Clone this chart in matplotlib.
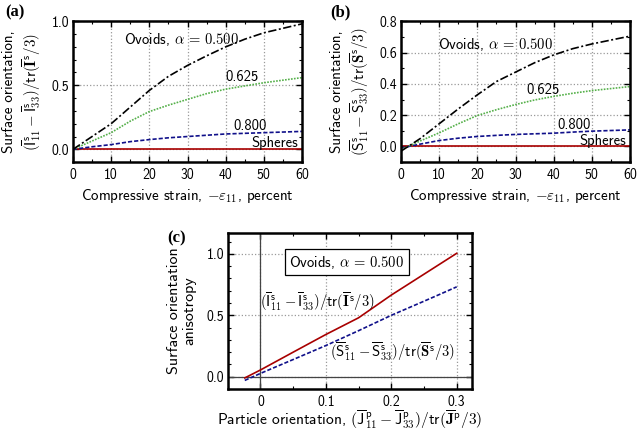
import matplotlib
matplotlib.use("Agg")
import matplotlib.pyplot as plt
from matplotlib.ticker import MultipleLocator

plt.rcParams['font.family'] = ['cmss10', 'DejaVu Sans']
plt.rcParams['mathtext.fontset'] = 'cm'
plt.rcParams['axes.unicode_minus'] = False
plt.rcParams['axes.formatter.use_mathtext'] = False

# ---- data ----
strain = [0, 5, 10, 15, 20, 25, 30, 35, 40, 45, 50, 55, 60]
a_ov500 = [0.0, 0.10, 0.20, 0.33, 0.46, 0.57, 0.655, 0.73, 0.80, 0.86, 0.91, 0.945, 0.98]
a_ov625 = [0.0, 0.065, 0.13, 0.22, 0.295, 0.345, 0.39, 0.435, 0.47, 0.495, 0.52, 0.54, 0.56]
a_ov800 = [0.0, 0.02, 0.037, 0.06, 0.076, 0.09, 0.10, 0.11, 0.12, 0.125, 0.13, 0.135, 0.14]
a_sph = [0.0] * 13

b_ov500 = [-0.03, 0.05, 0.145, 0.24, 0.33, 0.415, 0.475, 0.535, 0.585, 0.625, 0.655, 0.68, 0.705]
b_ov625 = [-0.02, 0.035, 0.087, 0.145, 0.198, 0.235, 0.268, 0.297, 0.32, 0.34, 0.357, 0.37, 0.383]
b_ov800 = [-0.01, 0.015, 0.038, 0.053, 0.064, 0.071, 0.077, 0.081, 0.085, 0.092, 0.098, 0.102, 0.106]
b_sph = [0.0] * 13

c_x = [-0.024, 0.0, 0.05, 0.1, 0.15, 0.2, 0.25, 0.275, 0.3]
c_I = [-0.01, 0.055, 0.2, 0.344, 0.48, 0.665, 0.835, 0.92, 1.005]
c_S = [-0.03, 0.027, 0.14, 0.254, 0.375, 0.50, 0.615, 0.673, 0.732]

BLACK = '#000000'
GREEN = '#55b04a'
BLUE = '#10108a'
RED = '#a80000'

TICK = 10
LAB = 10.8
ANN = 10.5

fig = plt.figure(figsize=(6.38, 4.43), dpi=100)

def style(ax):
    for s in ax.spines.values():
        s.set_linewidth(1.8)
    ax.tick_params(which='both', direction='in', top=True, right=True, labelsize=TICK)
    ax.tick_params(which='major', length=4, width=1.0, pad=4)
    ax.tick_params(axis='y', which='major', pad=2.5)
    ax.tick_params(which='minor', length=2.5, width=0.8)
    ax.grid(True, which='major', linestyle=':', color='#999999', linewidth=0.9)
    ax.set_axisbelow(True)

def curves(ax, o5, o6, o8, sp):
    ax.plot(strain, sp, color=RED, lw=1.2)
    ax.plot(strain, o8, color=BLUE, lw=1.2, ls=(0, (2.5, 1.2)))
    ax.plot(strain, o6, color=GREEN, lw=1.2, ls=(0, (1, 0.8)))
    ax.plot(strain, o5, color=BLACK, lw=1.2, ls=(0, (5, 1.5, 1.2, 1.5)))

OV = r"Ovoids, $\alpha\,=\,\mathsf{0.500}$"

# panel a
axa = fig.add_axes([0.1144, 0.634, 0.359, 0.318])
style(axa)
curves(axa, a_ov500, a_ov625, a_ov800, a_sph)
axa.set_xlim(0, 60)
axa.set_ylim(-0.1, 1.0)
axa.xaxis.set_major_locator(MultipleLocator(10))
axa.xaxis.set_minor_locator(MultipleLocator(5))
axa.yaxis.set_major_locator(MultipleLocator(0.5))
axa.yaxis.set_minor_locator(MultipleLocator(0.1))
axa.yaxis.set_major_formatter(matplotlib.ticker.FormatStrFormatter('%.1f'))
axa.set_xlabel(r"Compressive strain, $-\varepsilon_{11}$, percent", fontsize=LAB, labelpad=4)
axa.set_ylabel("Surface orientation,\n" +
               r"$(\overline{\mathsf{I}}^{\mathsf{s}}_{11}-\overline{\mathsf{I}}^{\mathsf{s}}_{33})/\mathsf{tr}(\overline{\mathbf{I}}^{\mathsf{s}}/3)$",
               fontsize=LAB, labelpad=6, linespacing=1.3)
axa.text(28.5, 0.86, OV, fontsize=ANN, ha='center', va='center')
axa.text(44.2, 0.565, "0.625", fontsize=ANN, ha='center', va='center')
axa.text(46.3, 0.18, "0.800", fontsize=ANN, ha='center', va='center')
axa.text(52.9, 0.05, "Spheres", fontsize=ANN, ha='center', va='center')

# panel b
axb = fig.add_axes([0.6285, 0.634, 0.359, 0.318])
style(axb)
curves(axb, b_ov500, b_ov625, b_ov800, b_sph)
axb.set_xlim(0, 60)
axb.set_ylim(-0.1, 0.8)
axb.xaxis.set_major_locator(MultipleLocator(10))
axb.xaxis.set_minor_locator(MultipleLocator(5))
axb.yaxis.set_major_locator(MultipleLocator(0.2))
axb.yaxis.set_minor_locator(MultipleLocator(0.1))
axb.yaxis.set_major_formatter(matplotlib.ticker.FormatStrFormatter('%.1f'))
axb.set_xlabel(r"Compressive strain, $-\varepsilon_{11}$, percent", fontsize=LAB, labelpad=4)
axb.set_ylabel("Surface orientation,\n" +
               r"$(\overline{\mathsf{S}}^{\mathsf{s}}_{11}-\overline{\mathsf{S}}^{\mathsf{s}}_{33})/\mathsf{tr}(\overline{\mathbf{S}}^{\mathsf{s}}/3)$",
               fontsize=LAB, labelpad=6, linespacing=1.3)
axb.text(24.8, 0.65, OV, fontsize=ANN, ha='center', va='center')
axb.text(37.2, 0.36, "0.625", fontsize=ANN, ha='center', va='center')
axb.text(45.3, 0.14, "0.800", fontsize=ANN, ha='center', va='center')
axb.text(52.8, 0.038, "Spheres", fontsize=ANN, ha='center', va='center')

# panel c
axc = fig.add_axes([0.357, 0.1219, 0.3824, 0.352])
style(axc)
axc.axhline(0, color='#444444', lw=0.9, zorder=1)
axc.axvline(0, color='#444444', lw=0.9, zorder=1)
axc.plot(c_x, c_I, color=RED, lw=1.2)
axc.plot(c_x, c_S, color=BLUE, lw=1.2, ls=(0, (2.5, 1.2)))
axc.set_xlim(-0.05, 0.323)
axc.set_ylim(-0.1, 1.17)
axc.xaxis.set_major_locator(MultipleLocator(0.1))
axc.xaxis.set_minor_locator(MultipleLocator(0.05))
axc.yaxis.set_major_locator(MultipleLocator(0.5))
axc.yaxis.set_minor_locator(MultipleLocator(0.1))
axc.xaxis.set_major_formatter(matplotlib.ticker.FuncFormatter(lambda v, p: '0' if abs(v) < 1e-9 else '%.1f' % v))
axc.yaxis.set_major_formatter(matplotlib.ticker.FormatStrFormatter('%.1f'))
axc.set_xlabel(r"Particle orientation, $(\overline{\mathsf{J}}^{\mathsf{p}}_{11}-\overline{\mathsf{J}}^{\mathsf{p}}_{33})/\mathsf{tr}(\overline{\mathbf{J}}^{\mathsf{p}}/3)$",
               fontsize=11.2, labelpad=0)
axc.set_ylabel("Surface orientation\nanisotropy", fontsize=11.5, labelpad=7, linespacing=1.15)
axc.text(0.132, 0.934, OV, fontsize=ANN, ha='center', va='center',
         bbox=dict(boxstyle='square,pad=0.3', fc='white', ec='black', lw=0.9))
axc.text(0.087, 0.61,
         r"$(\overline{\mathsf{I}}^{\mathsf{s}}_{11}-\overline{\mathsf{I}}^{\mathsf{s}}_{33})/\mathsf{tr}(\overline{\mathbf{I}}^{\mathsf{s}}/3)$",
         fontsize=ANN, ha='center', va='center')
axc.text(0.202, 0.205,
         r"$(\overline{\mathsf{S}}^{\mathsf{s}}_{11}-\overline{\mathsf{S}}^{\mathsf{s}}_{33})/\mathsf{tr}(\overline{\mathbf{S}}^{\mathsf{s}}/3)$",
         fontsize=ANN, ha='center', va='center')

# panel labels
for txt, x, y in [("(a)", 0.008, 0.972), ("(b)", 0.518, 0.972), ("(c)", 0.262, 0.463)]:
    fig.text(x, y, txt, fontsize=12, fontweight='bold', family='Liberation Serif', ha='left', va='center')

fig.savefig("out.png", dpi=100)
